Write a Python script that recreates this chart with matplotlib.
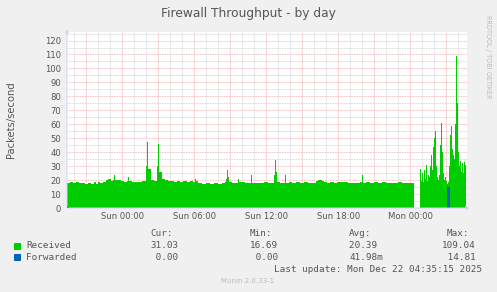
import matplotlib
matplotlib.use("Agg")
import matplotlib.pyplot as plt
import numpy as np

W, H, DPI = 497, 292, 72

# minutes relative to Sun 00:00, sampled where the value changes (step data)
recv_t = [
    -275, -260, -245, -230, -215, -200, -185, -170, -155, -140, -130, -120,
    -110, -95, -80, -70, -55, -45, -40, -35, -20, -5, 10, 25, 30, 35, 50, 70,
    85, 100, 115, 120, 125, 130, 145, 160, 175, 180, 185, 200, 215, 230, 245, 260, 275,
    290, 305, 315, 325, 340, 355, 365, 370, 380, 400, 420, 440, 460, 480, 500,
    515, 520, 525, 530, 535, 550, 570, 580, 585, 600, 615, 630, 645, 650, 670,
    690, 710, 730, 750, 760, 765, 770, 775, 790, 815, 820, 835, 850, 870, 890,
    910, 930, 950, 970, 980, 1000, 1010, 1025, 1040, 1060, 1075, 1090, 1110,
    1130, 1150, 1170, 1190, 1200, 1205, 1220, 1240, 1260, 1280, 1300, 1320,
    1340, 1360, 1380, 1400, 1420, 1440, 1460, 1475, 1490, 1495, 1500, 1505,
    1510, 1515, 1520, 1525, 1530, 1535, 1540, 1545, 1550, 1555, 1560, 1565,
    1570, 1575, 1580, 1585, 1590, 1595, 1600, 1605, 1610, 1615, 1620, 1625,
    1630, 1635, 1640, 1645, 1650, 1655, 1660, 1665, 1670, 1675, 1680, 1685,
    1690, 1695, 1700, 1705, 1710, 1715, 1720,
]
recv_v = [
    18.2, 18.6, 18.0, 18.4, 17.6, 17.9, 17.2, 17.6, 17.3, 18.3, 17.5, 18.8,
    18.1, 18.5, 19.8, 20.5, 19.6, 20.2, 24.0, 19.8, 20.0, 19.5, 18.9, 19.3, 22.5, 19.0, 18.6, 18.9,
    18.5, 19.0, 19.6, 30.0, 47.0, 28.0, 20.3, 19.6, 30.0, 46.0, 26.0, 20.8, 20.0, 19.4, 19.0, 18.8, 19.4,
    18.6, 19.0, 19.6, 18.8, 19.4, 18.8, 21.0, 19.4, 17.8, 17.4, 17.6, 17.3, 17.8, 17.5, 17.8,
    18.6, 21.0, 27.5, 22.0, 18.6, 17.6, 18.2, 20.5, 18.6, 18.4, 18.0, 17.7, 23.5, 17.8, 18.2,
    17.9, 18.3, 17.7, 18.0, 24.0, 34.5, 26.0, 18.4, 17.8, 23.5, 18.0, 18.6, 18.2, 18.5, 17.9,
    18.3, 17.8, 18.2, 19.0, 20.2, 19.6, 18.8, 18.2, 18.6, 18.0, 18.8, 18.4, 18.6,
    17.9, 18.2, 17.8, 18.3, 23.5, 18.0, 18.3, 17.9, 18.4, 18.0, 18.5, 17.9,
    18.2, 17.7, 18.3, 18.0, 17.6, 18.2, 17.9, np.nan, 28.0, 19.5, 25.0, 18.8,
    27.0, 21.0, 31.0, 19.5, 24.0, 22.0, 30.0, 38.0, 27.0, 44.0, 50.0, 55.0,
    30.0, 22.0, 20.0, 24.0, 45.0, 61.0, 40.0, 25.0, 20.0, 22.0, 19.0, 17.5,
    18.5, 30.0, 52.0, 58.5, 42.0, 38.0, 35.0, 60.0, 109.04, 75.0, 40.0, 30.0,
    34.0, 26.0, 32.0, 25.0, 33.0, 31.03, 31.03,
]
fwd_t = [-275, 1625, 1640, 1720]
fwd_v = [0.0, 14.81, 0.0, 0.0]

tick_pos = [0, 360, 720, 1080, 1440]
tick_labels = ["Sun 00:00", "Sun 06:00", "Sun 12:00", "Sun 18:00", "Mon 00:00"]

legend_names = ["Received", "Forwarded"]
legend_colors = ["#00CC00", "#0066B3"]
cur_vals = ["31.03", " 0.00"]
min_vals = ["16.69", " 0.00"]
avg_vals = ["20.39 ", "41.98m"]
max_vals = ["109.04", " 14.81"]

FONT = "#555555"
MONO = "DejaVu Sans Mono"


def fx(x):
    return x / W


def fy(y):
    return 1 - y / H


fig = plt.figure(figsize=(W / DPI, H / DPI), dpi=DPI, facecolor="#F0F0F0")
ax = fig.add_axes([fx(67), fy(208), fx(467) - fx(67), fy(32.3) - fy(208)])
ax.set_facecolor("white")
ax.set_xlim(-276.5, 1723.5)
ax.set_ylim(0, 125.9)

# grid: minor grey, major red, both dotted
for m in range(-240, 1721, 60):
    if m % 180:
        ax.axvline(m, color="#C8C8C8", lw=0.8, ls=(0, (1, 1)), zorder=1)
for m in range(-180, 1721, 180):
    ax.axvline(m, color="#F4A0A0", lw=0.8, ls=(0, (1, 1)), zorder=1)
for v in range(5, 126, 10):
    ax.axhline(v, color="#C8C8C8", lw=0.8, ls=(0, (1, 1)), zorder=1)
for v in range(10, 126, 10):
    ax.axhline(v, color="#F4A0A0", lw=0.8, ls=(0, (1, 1)), zorder=1)

ax.fill_between(recv_t, recv_v, step="post", color="#00CC00", lw=0, zorder=2)
ax.fill_between(fwd_t, fwd_v, step="post", color="#0066B3", lw=0, zorder=3)

for s in ax.spines.values():
    s.set_visible(False)
ax.tick_params(length=0, labelsize=8.5, labelcolor=FONT, pad=4)
ax.set_xticks(tick_pos)
ax.set_xticklabels(tick_labels)
ax.set_yticks(range(0, 121, 10))
ax.tick_params(axis="y", pad=6)

# axes with arrows
axc = "#CFD6F8"
ax.annotate("", xy=(1.012, 0), xytext=(0, 0), xycoords="axes fraction",
            arrowprops=dict(arrowstyle="-|>", color=axc, lw=1, mutation_scale=7),
            annotation_clip=False, zorder=4)
ax.annotate("", xy=(0, 1.03), xytext=(0, 0), xycoords="axes fraction",
            arrowprops=dict(arrowstyle="-|>", color=axc, lw=1, mutation_scale=7),
            annotation_clip=False, zorder=4)

fig.text(fx(248), fy(13), "Firewall Throughput - by day", ha="center",
         va="center", fontsize=12.2, color=FONT)
fig.text(fx(11), fy(120), "Packets/second", rotation=90, ha="center",
         va="center", fontsize=10, color=FONT)
fig.text(fx(488), fy(57), "RRDTOOL / TOBI OETIKER", rotation=270, ha="center",
         va="center", fontsize=6.5, color="#BBBBBB")

# legend block
lfs = 9.3
fig.text(fx(150), fy(234), "Cur:", fontsize=lfs, family=MONO, color=FONT, va="center")
fig.text(fx(250), fy(234), "Min:", fontsize=lfs, family=MONO, color=FONT, va="center")
fig.text(fx(349), fy(234), "Avg:", fontsize=lfs, family=MONO, color=FONT, va="center")
fig.text(fx(447), fy(234), "Max:", fontsize=lfs, family=MONO, color=FONT, va="center")
for i, name in enumerate(legend_names):
    y = 245.7 + 11.6 * i
    fig.patches.append(plt.Rectangle((fx(14), fy(y + 3)), fx(6), fy(0) - fy(6),
                                     transform=fig.transFigure,
                                     color=legend_colors[i]))
    fig.text(fx(26), fy(y), name, fontsize=lfs, family=MONO, color=FONT, va="center")
    fig.text(fx(150), fy(y), cur_vals[i], fontsize=lfs, family=MONO, color=FONT, va="center")
    fig.text(fx(250), fy(y), min_vals[i], fontsize=lfs, family=MONO, color=FONT, va="center")
    fig.text(fx(349), fy(y), avg_vals[i], fontsize=lfs, family=MONO, color=FONT, va="center")
    fig.text(fx(442), fy(y), max_vals[i], fontsize=lfs, family=MONO, color=FONT, va="center")

fig.text(fx(482), fy(270), "Last update: Mon Dec 22 04:35:15 2025", ha="right",
         fontsize=lfs, family=MONO, color=FONT, va="center")
fig.text(fx(248), fy(281), "Munin 2.0.33-1", ha="center", va="center",
         fontsize=7, color="#BBBBBB")

fig.savefig("out.png", dpi=DPI, facecolor=fig.get_facecolor())
